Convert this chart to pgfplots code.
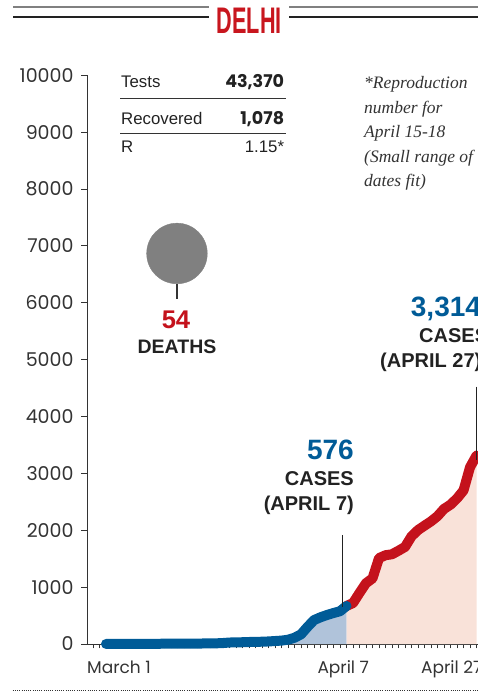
\documentclass[border=0pt]{standalone}
\usepackage{fontspec}
\usepackage{graphicx}
\usepackage{pgfplots}
\usepackage{pgfplotstable}
\pgfplotsset{compat=1.18}
\setmainfont{Liberation Sans}
\newfontfamily\pop{Poppins}
\newfontfamily\serifit{Liberation Serif}
\definecolor{dblue}{HTML}{005B97}
\definecolor{dred}{HTML}{C4121C}
\definecolor{lblue}{HTML}{B0C3DA}
\definecolor{lpink}{HTML}{F9E2D9}
\definecolor{titlered}{HTML}{C8161E}
\definecolor{txt}{HTML}{222222}
\definecolor{axc}{HTML}{333333}
\definecolor{bub}{HTML}{808080}

\pgfplotstableread{
day cases
0 1
1 1
2 1
3 2
4 3
5 3
6 3
7 4
8 4
9 5
10 6
11 7
12 7
13 7
14 8
15 9
16 10
17 12
18 17
19 26
20 29
21 31
22 35
23 38
24 40
25 45
26 52
27 60
28 75
29 110
30 170
31 300
32 420
33 470
34 510
35 545
36 576
37 669
}\bluedata

\pgfplotstableread{
day cases
37 669
38 720
39 898
40 1069
41 1154
42 1510
43 1561
44 1578
45 1640
46 1707
47 1893
48 2003
49 2081
50 2156
51 2248
52 2376
53 2450
54 2560
55 2700
56 3108
57 3314
}\reddata

\begin{document}
\begin{tikzpicture}
\useasboundingbox (0,0) rectangle (478bp,698bp);
% title
\draw[line width=2bp, color=bub] (13bp,690.7bp) -- (209.3bp,690.7bp);
\draw[line width=2bp, color=bub] (289bp,690.7bp) -- (478bp,690.7bp);
\draw[line width=1.2bp, color=txt] (13bp,681bp) -- (209.3bp,681bp);
\draw[line width=1.2bp, color=txt] (289bp,681bp) -- (478bp,681bp);
\node[inner sep=0, anchor=center, text=titlered] at (249.2bp,677.7bp)
  {\scalebox{0.585}[1]{\fontsize{37bp}{37bp}\selectfont\bfseries DELHI}};

\begin{axis}[
  scale only axis,
  width=390.7bp, height=568.7bp,
  at={(87.3bp,54bp)}, anchor=south west,
  xmin=-2.877, xmax=57.23, ymin=0, ymax=10000,
  axis x line*=bottom, axis y line*=left,
  axis line style={line width=0.9bp, color=axc, -},
  clip=false,
  tick align=outside,
  ytick={0,1000,...,10000},
  xtick={-2,-1,...,57},
  xticklabels={},
  xtick style={line width=0.8bp, color=axc, /pgfplots/major tick length=4.3bp},
  ytick style={line width=0.9bp, color=axc, /pgfplots/major tick length=6bp},
  yticklabel style={font=\pop\fontsize{19bp}{19bp}\selectfont, text=axc, xshift=-6bp},
  /pgf/number format/assume math mode=true,
  /pgf/number format/1000 sep={},
  scaled y ticks=false,
  extra x ticks={2,36.5,53.2},
  extra x tick labels={March 1, April 7, April 27},
  extra x tick style={
    xtick style={draw=none},
    xticklabel style={font=\pop\fontsize{17bp}{17bp}\selectfont, text=axc, anchor=base, yshift=-25bp}
  },
]
\addplot[fill=lblue, draw=none] table[x=day, y=cases] {\bluedata} \closedcycle;
\addplot[fill=lpink, draw=none] table[x=day, y=cases] {\reddata} \closedcycle;
\addplot[color=dred, line width=10bp, line cap=round, line join=round] table[x=day, y=cases] {\reddata};
\addplot[color=dblue, line width=10bp, line cap=round, line join=round] table[x=day, y=cases] {\bluedata};
% deaths bubble
\addplot[only marks, mark=*, mark size=30.3bp, color=bub] coordinates {(10.92,6867)};
\draw[line width=1.2bp, color=axc] (axis cs:10.92,6330) -- (axis cs:10.92,6067);
\end{axis}

% table
\node[inner sep=0, anchor=base west, text=txt, font=\fontsize{16.8bp}{16.8bp}\selectfont] at (121bp,610bp) {Tests};
\node[inner sep=0, anchor=base west, text=txt, font=\fontsize{16.8bp}{16.8bp}\selectfont] at (121bp,573.7bp) {Recovered};
\node[inner sep=0, anchor=base west, text=txt, font=\fontsize{16.8bp}{16.8bp}\selectfont] at (121bp,545bp) {R};
\node[inner sep=0, anchor=base east, text=txt, font=\pop\bfseries\fontsize{17.5bp}{17.5bp}\selectfont] at (284.3bp,610bp) {43,370};
\node[inner sep=0, anchor=base east, text=txt, font=\pop\bfseries\fontsize{17.5bp}{17.5bp}\selectfont] at (284.3bp,573.7bp) {1,078};
\node[inner sep=0, anchor=base east, text=txt, font=\fontsize{16.8bp}{16.8bp}\selectfont] at (284.3bp,545bp) {1.15*};
\draw[line width=1bp, color=axc] (120bp,599.7bp) -- (286bp,599.7bp);
\draw[line width=1bp, color=axc] (120bp,564bp) -- (286bp,564bp);

% note
\begin{scope}[every node/.style={inner sep=0, anchor=base west, text=axc, font=\serifit\itshape\fontsize{17.5bp}{17.5bp}\selectfont}]
\node at (364bp,609.7bp) {*Reproduction};
\node at (364bp,584.7bp) {number for};
\node at (364bp,560bp) {April 15-18};
\node at (364bp,535bp) {(Small range of};
\node at (364bp,511.3bp) {dates fit)};
\end{scope}

% deaths text
\node[inner sep=0, anchor=base, text=dred, font=\bfseries\fontsize{25.6bp}{25.6bp}\selectfont] at (176bp,369.7bp) {54};
\node[inner sep=0, anchor=base, text=txt, font=\bfseries\fontsize{19.5bp}{19.5bp}\selectfont] at (177bp,344bp) {DEATHS};

% April 7 annotation
\node[inner sep=0, anchor=base east, text=dblue, font=\bfseries\fontsize{28bp}{28bp}\selectfont] at (354bp,238bp) {576};
\node[inner sep=0, anchor=base east, text=txt, font=\bfseries\fontsize{20bp}{20bp}\selectfont] at (354bp,212bp) {CASES};
\node[inner sep=0, anchor=base east, text=txt, font=\bfseries\fontsize{20bp}{20bp}\selectfont] at (354bp,187bp) {(APRIL 7)};
\draw[line width=1.1bp, color=txt] (342.3bp,163bp) -- (342.3bp,91.3bp);

% April 27 annotation
\node[inner sep=0, anchor=base west, text=dblue, font=\bfseries\fontsize{28bp}{28bp}\selectfont] at (410.7bp,381.3bp) {3,314};
\node[inner sep=0, anchor=base west, text=txt, font=\bfseries\fontsize{20bp}{20bp}\selectfont] at (419bp,355bp) {CASES};
\node[inner sep=0, anchor=base west, text=txt, font=\bfseries\fontsize{20bp}{20bp}\selectfont] at (380bp,330bp) {(APRIL 27)};
\draw[line width=1.1bp, color=txt] (476.7bp,311.3bp) -- (476.7bp,238bp);

% bottom dotted rule
\draw[line width=1bp, color=axc, dash pattern=on 1bp off 1.2bp] (12.7bp,7bp) -- (478bp,7bp);
\end{tikzpicture}
\end{document}
